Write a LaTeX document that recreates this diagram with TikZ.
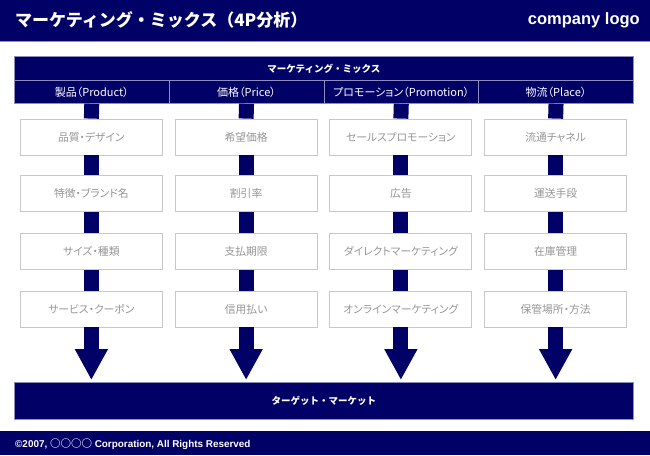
\documentclass[tikz,border=0pt]{standalone}
\usepackage{fontspec}
\usetikzlibrary{arrows.meta}
\newfontfamily\jp[RawFeature=+palt]{Noto Sans CJK JP}
\newfontfamily\jpw{Noto Sans CJK JP}
\newfontfamily\lat{Liberation Sans}
\definecolor{navy}{RGB}{0,0,102}
\definecolor{barline}{RGB}{140,140,190}
\definecolor{boxline}{RGB}{200,200,200}
\definecolor{boxtext}{RGB}{150,150,150}
\tikzset{
  bar/.style={fill=navy, draw=barline, line width=0.8pt, inner sep=0pt},
  colhead/.style={fill=navy, draw=barline, line width=0.8pt, minimum width=154.75pt, minimum height=23pt, inner sep=0pt, text=white, font=\jp\fontsize{11}{13}\selectfont},
  itembox/.style={fill=white, draw=boxline, line width=0.8pt, minimum width=142pt, minimum height=36pt, inner sep=0pt, text=boxtext, font=\jp\fontsize{10.8}{13}\selectfont},
  link/.style={navy, line width=15pt},
  downarrow/.style={navy, line width=15pt, -{Triangle[width=31pt,length=31pt]}, shorten >=2pt}
}
\begin{document}
\begin{tikzpicture}[x=1pt,y=-1pt]
\useasboundingbox (0,0) rectangle (650,455);
% header
\node[bar, draw=none, minimum width=650pt, minimum height=41pt, anchor=north west] (header) at (0,0) {};
\draw[barline, line width=0.8pt] (header.south west) -- (header.south east);
\node[anchor=west, text=white, font=\jpw\bfseries\fontsize{17}{20}\selectfont, inner sep=0pt] (title) at (15,20) {マーケティング・ミックス（4P分析）};
\node[anchor=east, text=white, font=\lat\bfseries\fontsize{16.5}{19}\selectfont, inner sep=0pt] (logo) at (640,20) {company logo};
% main bar
\node[bar, minimum width=619pt, minimum height=24pt, anchor=north west, text=white, font=\jpw\bfseries\fontsize{9.5}{11}\selectfont] (mix) at (14,56) {マーケティング・ミックス};
% column headers
\node[colhead, anchor=north west] (h1) at (14,80) {製品（Product）};
\node[colhead, anchor=north west] (h2) at (168.75,80) {価格（Price）};
\node[colhead, anchor=north west] (h3) at (323.5,80) {プロモーション（Promotion）};
\node[colhead, anchor=north west] (h4) at (478.25,80) {物流（Place）};
% item boxes
\foreach \c/\x in {1/91.375,2/246.125,3/400.875,4/555.625}{
  \foreach \r/\y in {1/137,2/193.5,3/251.5,4/309}{
    \coordinate (p\c\r) at (\x,\y);
  }
}
\node[itembox] (b11) at (p11) {品質・デザイン};
\node[itembox] (b12) at (p12) {特徴・ブランド名};
\node[itembox] (b13) at (p13) {サイズ・種類};
\node[itembox] (b14) at (p14) {サービス・クーポン};
\node[itembox] (b21) at (p21) {希望価格};
\node[itembox] (b22) at (p22) {割引率};
\node[itembox] (b23) at (p23) {支払期限};
\node[itembox] (b24) at (p24) {信用払い};
\node[itembox] (b31) at (p31) {セールスプロモーション};
\node[itembox] (b32) at (p32) {広告};
\node[itembox] (b33) at (p33) {ダイレクトマーケティング};
\node[itembox] (b34) at (p34) {オンラインマーケティング};
\node[itembox] (b41) at (p41) {流通チャネル};
\node[itembox] (b42) at (p42) {運送手段};
\node[itembox] (b43) at (p43) {在庫管理};
\node[itembox] (b44) at (p44) {保管場所・方法};
% target market
\node[bar, minimum width=619pt, minimum height=37pt, anchor=north west, text=white, font=\jpw\bfseries\fontsize{9.5}{11}\selectfont] (target) at (14,382) {ターゲット・マーケット};
% links
\foreach \c in {1,2,3,4}{
  \draw[link] (h\c.south) -- (b\c1.north);
  \draw[link] (b\c1.south) -- (b\c2.north);
  \draw[link] (b\c2.south) -- (b\c3.north);
  \draw[link] (b\c3.south) -- (b\c4.north);
  \draw[downarrow] (b\c4.south) -- (b\c4.south |- target.north);
}
% footer
\node[bar, draw=none, minimum width=650pt, minimum height=24pt, anchor=north west] (footer) at (0,431) {};
\node[anchor=west, text=white, font=\lat\bfseries\fontsize{9.9}{11}\selectfont, inner sep=0pt] (copy) at (15,444.5) {©2007, {\jpw\fontsize{10.5}{11}\selectfont ○○○○} Corporation, All Rights Reserved};
\end{tikzpicture}
\end{document}
